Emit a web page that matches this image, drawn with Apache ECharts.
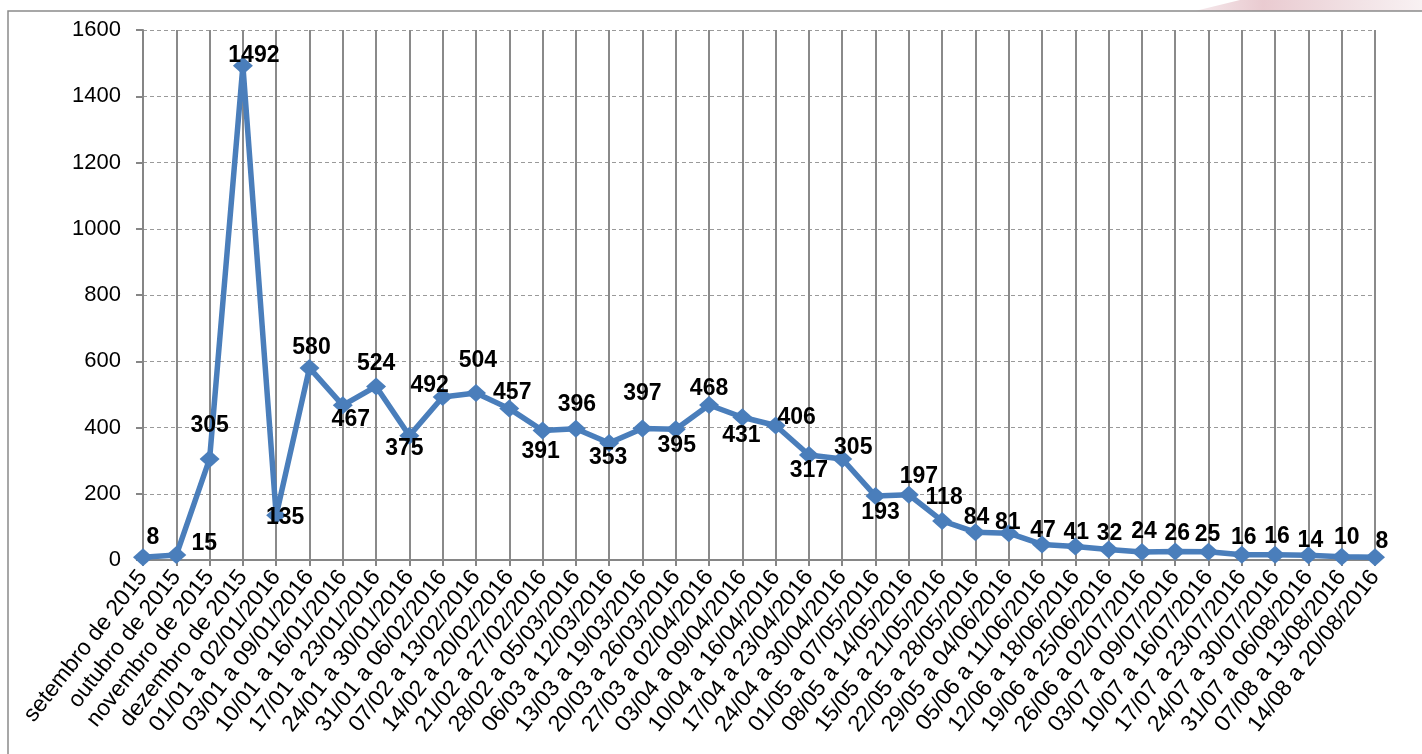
<!DOCTYPE html>
<html>
<head>
<meta charset="utf-8">
<script src="https://cdn.jsdelivr.net/npm/echarts@6/dist/echarts.min.js"></script>
<style>
html,body{margin:0;padding:0;background:#fff;}
#chart{width:1422px;height:754px;}
</style>
</head>
<body>
<div id="chart"></div>
<script>
var categories = [
  'setembro de 2015','outubro de 2015','novembro de 2015','dezembro de 2015',
  '01/01 a 02/01/2016','03/01 a 09/01/2016','10/01 a 16/01/2016','17/01 a 23/01/2016',
  '24/01 a 30/01/2016','31/01 a 06/02/2016','07/02 a 13/02/2016','14/02 a 20/02/2016',
  '21/02 a 27/02/2016','28/02 a 05/03/2016','06/03 a 12/03/2016','13/03 a 19/03/2016',
  '20/03 a 26/03/2016','27/03 a 02/04/2016','03/04 a 09/04/2016','10/04 a 16/04/2016',
  '17/04 a 23/04/2016','24/04 a 30/04/2016','01/05 a 07/05/2016','08/05 a 14/05/2016',
  '15/05 a 21/05/2016','22/05 a 28/05/2016','29/05 a 04/06/2016','05/06 a 11/06/2016',
  '12/06 a 18/06/2016','19/06 a 25/06/2016','26/06 a 02/07/2016','03/07 a 09/07/2016',
  '10/07 a 16/07/2016','17/07 a 23/07/2016','24/07 a 30/07/2016','31/07 a 06/08/2016',
  '07/08 a 13/08/2016','14/08 a 20/08/2016'
];
var values = [8,15,305,1492,135,580,467,524,375,492,504,457,391,396,353,397,395,468,431,406,317,305,193,197,118,84,81,47,41,32,24,26,25,16,16,14,10,8];
var yTicks = [0,200,400,600,800,1000,1200,1400,1600];

// label centre offsets from each marker, in px (style only)
var labelOffsets = [
  [10,-20],[28,-11],[0,-33],[11,-10],[9,2],[2,-20],[8,14],[0,-23],[-5,13],[-13,-11],
  [2,-32],[3,-16],[-2,21],[1,-24],[-1,15],[0,-35],[1,16],[0,-16],[-1,18],[21,-8],
  [0,16],[11,-11],[5,17],[10,-18],[2,-23],[1,-15],[-1,-11],[1,-14],[1,-14],[1,-16],
  [2,-20],[2,-18],[-1,-17],[2,-17],[2,-18],[2,-15],[5,-19],[7,-16]
];

var seriesData = values.map(function(v,i){
  return {value:v, label:{position:'inside', offset:labelOffsets[i]}};
});

var chart = echarts.init(document.getElementById('chart'), null, {renderer:'canvas'});
var font = 'Liberation Sans, Arial, sans-serif';
chart.setOption({
  backgroundColor:'#ffffff',
  animation:false,
  graphic:[
    {type:'polygon', silent:true, z:0,
     shape:{points:[[1195,11],[1240,0],[1422,0],[1422,11]]},
     style:{fill:{type:'linear',x:0,y:0,x2:1,y2:0,colorStops:[
       {offset:0,color:'rgba(245,232,235,0.9)'},
       {offset:0.3,color:'rgba(228,190,197,0.8)'},
       {offset:0.7,color:'rgba(238,218,222,0.8)'},
       {offset:1,color:'rgba(247,238,240,0.8)'}]}}},
    {type:'polyline', silent:true, z:1,
     shape:{points:[[8,760],[8,11],[1422,11]]},
     style:{stroke:'#8a8a8a', lineWidth:1.5, fill:null}}
  ],
  grid:{left:143, right:47, top:30, bottom:194, containLabel:false},
  xAxis:{
    type:'category',
    data:categories,
    boundaryGap:false,
    axisLine:{show:true, lineStyle:{color:'#868686', width:2}},
    axisTick:{show:true, alignWithLabel:true, interval:0, length:6, lineStyle:{color:'#868686', width:2}},
    axisLabel:{interval:0, rotate:52, margin:13, color:'#000', fontSize:23, fontFamily:font},
    splitLine:{show:true, interval:0, lineStyle:{color:'#8a8a8a', width:2, type:'solid'}}
  },
  yAxis:{
    type:'value',
    min:yTicks[0], max:yTicks[yTicks.length-1], interval:yTicks[1]-yTicks[0],
    axisLine:{show:true, lineStyle:{color:'#868686', width:2}},
    axisTick:{show:true, length:7, lineStyle:{color:'#868686', width:2}},
    axisLabel:{color:'#000', fontSize:22, fontFamily:font, margin:22,
      formatter:function(v){return String(v);}},
    splitLine:{show:true, lineStyle:{color:'#9a9a9a', width:1, type:[4,3]}}
  },
  series:[{
    type:'line',
    data:seriesData,
    symbol:'diamond',
    symbolSize:[20,18],
    showAllSymbol:true,
    lineStyle:{color:'#4A7EBB', width:5.5},
    itemStyle:{color:'#4A7EBB'},
    label:{show:true, color:'#000', fontSize:23, fontWeight:'bold', fontFamily:font},
    z:5
  }]
});
</script>
</body>
</html>
